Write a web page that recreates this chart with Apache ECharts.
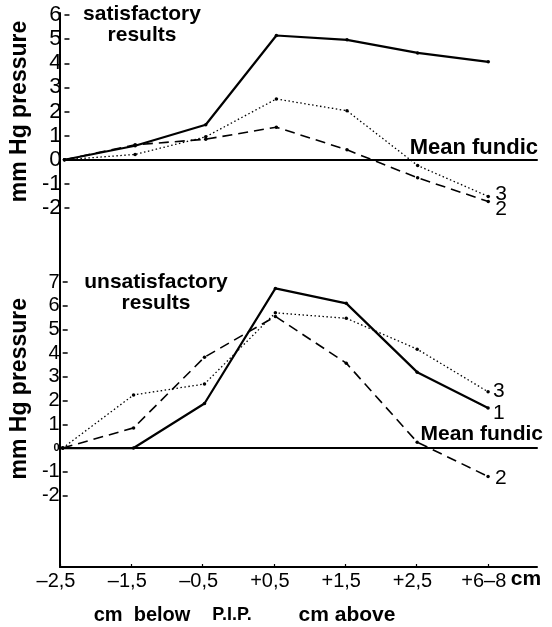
<!DOCTYPE html>
<html>
<head>
<meta charset="utf-8">
<script src="https://cdn.jsdelivr.net/npm/echarts@6/dist/echarts.min.js"></script>
<style>
html,body{margin:0;padding:0;background:#fff;}
#chart{width:552px;height:627px;}
</style>
</head>
<body>
<div id="chart"></div>
<script>
const xLabels = ['–2,5', '–1,5', '–0,5', '+0,5', '+1,5', '+2,5', '+6–8'];
const xPos = [0, 1, 2, 3, 4, 5, 6];
// satisfactory results
const satSolid  = [0, 0.58, 1.45, 5.15, 4.97, 4.43, 4.06];
const satDashed = [0, 0.62, 0.85, 1.35, 0.41, -0.75, -1.73];
const satDotted = [0, 0.22, 0.95, 2.52, 2.03, -0.24, -1.52];
// unsatisfactory results
const unsatSolid  = [0, 0, 1.88, 6.73, 6.1, 3.2, 1.69];
const unsatDashed = [0, 0.85, 3.83, 5.55, 3.58, 0.25, -1.2];
const unsatDotted = [0, 2.24, 2.7, 5.7, 5.47, 4.17, 2.37];
const topTicks = [-2, 6];
const bottomTicks = [-2, 7];

const FONT = "'Liberation Sans', Arial, Helvetica, sans-serif";
const pairs = arr => arr.map((v, i) => [xPos[i], v]);

const chart = echarts.init(document.getElementById('chart'), null, {renderer: 'canvas'});

const X_MAX = 6.69;
function hiddenX(gridIndex) {
  return {
    type: 'value', gridIndex, min: 0, max: X_MAX, interval: 1,
    axisLine: {show: true, onZero: true, lineStyle: {color: '#000', width: 2}},
    axisTick: {show: false}, axisLabel: {show: false}, splitLine: {show: false}
  };
}
function yAx(gridIndex, range, fs) {
  return {
    type: 'value', gridIndex, min: range[0], max: range[1], interval: 1,
    name: 'mm Hg pressure', nameLocation: 'middle', nameRotate: 90, nameGap: 27,
    nameTextStyle: {fontFamily: FONT, fontWeight: 'bold', fontSize: 23, color: '#000'},
    axisLine: {show: false},
    axisTick: {show: true, inside: true, length: 5, lineStyle: {color: '#000', width: 1.5}},
    axisLabel: {
      margin: 3, fontFamily: FONT, fontSize: fs, color: '#000',
      formatter: v => v === 0 && gridIndex === 2 ? '{s|0}' : (v < 0 ? '-' + Math.abs(v) : String(v)),
      rich: {s: {fontSize: 11, fontFamily: FONT, color: '#000', fontWeight: 'bold'}}
    },
    splitLine: {show: false}
  };
}
function line(name, data, gi, style, endText, endOffset) {
  return {
    name, type: 'line', xAxisIndex: gi, yAxisIndex: gi, data: pairs(data),
    symbol: 'circle', symbolSize: 3.5, showSymbol: true,
    itemStyle: {color: '#000'},
    lineStyle: Object.assign({color: '#000'}, style),
    endLabel: endText ? {show: true, formatter: endText, offset: endOffset, distance: 4,
      fontFamily: FONT, fontSize: 21, color: '#000'} : {show: false},
    z: 3
  };
}
const SOLID = {type: 'solid', width: 2.2};
const DASH = {type: [10, 6], width: 1.6};
const DOT = {type: [1.5, 2.5], width: 1.3};

const option = {
  animation: false,
  backgroundColor: '#fff',
  grid: [
    {left: 60, top: 13, width: 477, height: 554},
    {left: 60, top: 15, width: 477, height: 193},
    {left: 60, top: 282, width: 477, height: 213.5}
  ],
  xAxis: [
    {
      type: 'value', gridIndex: 0, min: 0, max: X_MAX, interval: 1,
      axisLine: {show: true, onZero: false, lineStyle: {color: '#000', width: 2}},
      axisTick: {show: true, inside: true, length: 3, lineStyle: {color: '#000', width: 1.2}},
      axisLabel: {
        margin: 4, fontFamily: FONT, fontSize: 20, color: '#000', showMaxLabel: false,
        padding: [0, 8, 0, 0],
        formatter: v => (Number.isInteger(v) && xLabels[v] !== undefined) ? xLabels[v] : ''
      },
      splitLine: {show: false}
    },
    hiddenX(1),
    hiddenX(2)
  ],
  yAxis: [
    {
      type: 'value', gridIndex: 0, min: 0, max: 1,
      axisLine: {show: true, onZero: false, lineStyle: {color: '#000', width: 2}},
      axisTick: {show: false}, axisLabel: {show: false}, splitLine: {show: false}
    },
    yAx(1, topTicks, 22),
    yAx(2, bottomTicks, 20)
  ],
  series: [
    line('1', satSolid, 1, SOLID, null, null),
    line('2', satDashed, 1, DASH, '2', [3, 8]),
    line('3', satDotted, 1, DOT, '3', [3, -2]),
    line('1', unsatSolid, 2, SOLID, '1', [1, 5]),
    line('2', unsatDashed, 2, DASH, '2', [3, 2]),
    line('3', unsatDotted, 2, DOT, '3', [1, -1])
  ],
  graphic: [
    {type: 'text', x: 142, y: 25, style: {text: 'satisfactory\nresults', fontFamily: FONT, fontWeight: 'bold', fontSize: 21, lineHeight: 21, textAlign: 'center', textVerticalAlign: 'middle', fill: '#000'}},
    {type: 'text', x: 156, y: 293, style: {text: 'unsatisfactory\nresults', fontFamily: FONT, fontWeight: 'bold', fontSize: 21, lineHeight: 21, textAlign: 'center', textVerticalAlign: 'middle', fill: '#000'}},
    {type: 'text', x: 538, y: 148, style: {text: 'Mean fundic', fontFamily: FONT, fontWeight: 'bold', fontSize: 22, textAlign: 'right', textVerticalAlign: 'middle', fill: '#000'}},
    {type: 'text', x: 543, y: 434, style: {text: 'Mean fundic', fontFamily: FONT, fontWeight: 'bold', fontSize: 21, textAlign: 'right', textVerticalAlign: 'middle', fill: '#000'}},
    {type: 'text', x: 526, y: 579, style: {text: 'cm', fontFamily: FONT, fontWeight: 'bold', fontSize: 21, textAlign: 'center', textVerticalAlign: 'middle', fill: '#000'}},
    {type: 'text', x: 142, y: 615, style: {text: 'cm  below', fontFamily: FONT, fontWeight: 'bold', fontSize: 20, textAlign: 'center', textVerticalAlign: 'middle', fill: '#000'}},
    {type: 'text', x: 232, y: 615, style: {text: 'P.I.P.', fontFamily: FONT, fontWeight: 'bold', fontSize: 18, textAlign: 'center', textVerticalAlign: 'middle', fill: '#000'}},
    {type: 'text', x: 347, y: 615, style: {text: 'cm above', fontFamily: FONT, fontWeight: 'bold', fontSize: 21, textAlign: 'center', textVerticalAlign: 'middle', fill: '#000'}}
  ]
};
chart.setOption(option);
</script>
</body>
</html>
